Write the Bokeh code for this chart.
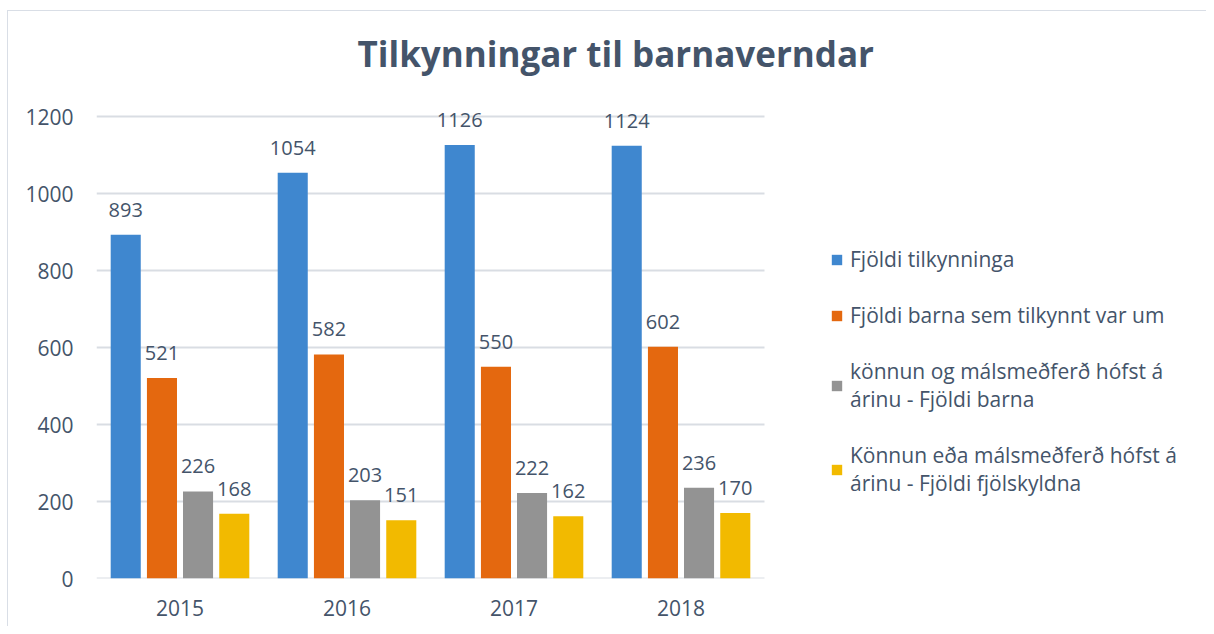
from bokeh.plotting import figure
from bokeh.models import ColumnDataSource, Range1d, FixedTicker, Legend, LegendItem, Title
from bokeh.transform import dodge
from bokeh.core.properties import value
from bokeh.embed import file_html
from bokeh.resources import INLINE

years = ["2015", "2016", "2017", "2018"]
tilkynningar = [893, 1054, 1126, 1124]
born = [521, 582, 550, 602]
konnun_born = [226, 203, 222, 236]
konnun_fjolsk = [168, 151, 162, 170]
series_names = [
    "Fjöldi tilkynninga",
    "Fjöldi barna sem tilkynnt var um",
    "könnun og málsmeðferð hófst á\nárinu - Fjöldi barna",
    "Könnun eða málsmeðferð hófst á\nárinu - Fjöldi fjölskyldna",
]
y_ticks = [0, 200, 400, 600, 800, 1000, 1200]

FONT = "Open Sans"
TXT = "#44546A"
GRID = "#D9DDE3"
BORDER = "#D9DEE6"

W, H = 1206, 626
LEFT, BOTTOM = 96, 48
AXIS_TOP = 116          # pixel row of the 1200 gridline
HEADROOM = 25           # extra space above it so the data labels are not cut
CAT_PX = 167            # pixel width of one year category
FRAME_H = H - BOTTOM - AXIS_TOP

xpos = list(range(len(years)))
src = ColumnDataSource(dict(x=xpos, s1=tilkynningar, s2=born, s3=konnun_born, s4=konnun_fjolsk,
                            l1=[str(v) for v in tilkynningar], l2=[str(v) for v in born],
                            l3=[str(v) for v in konnun_born], l4=[str(v) for v in konnun_fjolsk]))

x_end = -0.5 + (W - LEFT) / CAT_PX
y_end = y_ticks[-1] * (FRAME_H + HEADROOM) / FRAME_H
p = figure(x_range=Range1d(-0.5, x_end), y_range=Range1d(0, y_end),
           width=W, height=H, output_backend="svg", toolbar_location=None,
           min_border_left=LEFT, min_border_right=0, min_border_top=AXIS_TOP - HEADROOM,
           min_border_bottom=BOTTOM)
p.outline_line_color = None
p.background_fill_alpha = 0
p.border_fill_alpha = 0
p.styles = {
    "background-color": "white",
    "background-image": f"linear-gradient({BORDER}, {BORDER}), linear-gradient({BORDER}, {BORDER})",
    "background-size": "1px 100%, 100% 1px",
    "background-position": "7px 10px, 7px 10px",
    "background-repeat": "no-repeat",
}

# horizontal gridlines limited to the category area
p.xgrid.grid_line_color = None
p.ygrid.grid_line_color = None
p.segment(x0=-0.5, x1=len(years) - 0.5, y0=y_ticks, y1=y_ticks, line_color=GRID, line_width=2)

colors = ["#3F87CF", "#E4680F", "#939393", "#F2BA00"]
offsets = [-0.325, -0.108, 0.108, 0.325]
cols = ["s1", "s2", "s3", "s4"]
labs = ["l1", "l2", "l3", "l4"]
renderers = []
for c, off, col, lab in zip(cols, offsets, colors, labs):
    r = p.vbar(x=dodge("x", off), top=c, width=0.18, source=src,
               fill_color=col, line_color=None)
    renderers.append(r)
    p.text(x=dodge("x", off), y=c, text=lab, source=src,
           text_font=value(FONT), text_font_size="20px", text_color=TXT,
           text_align="center", text_baseline="bottom", y_offset=-18)

p.yaxis.ticker = FixedTicker(ticks=y_ticks)
p.yaxis.axis_line_color = None
p.yaxis.major_tick_line_color = None
p.yaxis.minor_tick_line_color = None
p.yaxis.major_tick_out = 0
p.yaxis.major_tick_in = 0
p.yaxis.major_label_standoff = 23

p.xaxis.ticker = FixedTicker(ticks=xpos)
p.xaxis.major_label_overrides = {i: y for i, y in zip(xpos, years)}
p.xaxis.axis_line_color = None
p.xaxis.major_tick_line_color = None
p.xaxis.minor_tick_line_color = None
p.xaxis.major_tick_out = 0
p.xaxis.major_tick_in = 0
p.xaxis.major_label_standoff = 21
for ax in (p.xaxis, p.yaxis):
    ax.major_label_text_font = FONT
    ax.major_label_text_font_size = "21px"
    ax.major_label_text_color = TXT

title = Title(text="Tilkynningar til barnaverndar", align="left", offset=261,
              text_font=FONT, text_font_size="35px", text_font_style="bold", text_color=TXT,
              standoff=29)
p.add_layout(title, "above")

legend = Legend(items=[LegendItem(label=n, renderers=[r]) for r, n in zip(renderers, series_names)],
                location=(734, 81), padding=0, margin=0, spacing=28,
                border_line_color=None, background_fill_alpha=0,
                glyph_width=13, glyph_height=13, label_standoff=7,
                label_text_font=FONT, label_text_font_size="21px", label_text_color=TXT,
                label_text_line_height=1.55)
p.add_layout(legend)

open("out.html", "w").write(file_html(p, INLINE))
